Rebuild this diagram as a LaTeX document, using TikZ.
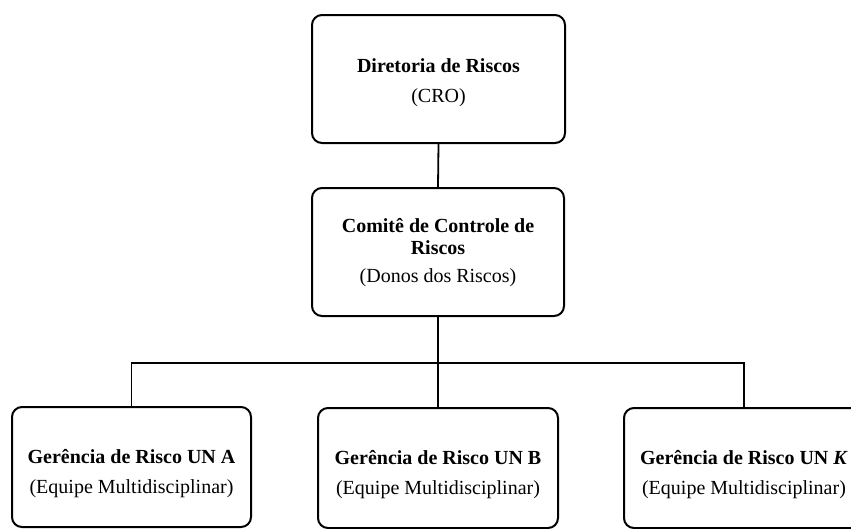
\documentclass[tikz,border=0pt]{standalone}
\usepackage{fontspec}
\setmainfont{Liberation Serif}
\begin{document}
\begin{tikzpicture}[x=1pt,y=-1pt,
  frame/.style={draw=black, line width=2pt, rounded corners=10pt,
    fill=white, inner sep=0pt},
  topbox/.style={frame, minimum width=253pt, minimum height=128pt},
  leafbox/.style={frame, minimum width=240pt, minimum height=120pt},
  caption/.style={align=center, inner sep=0pt,
    font=\fontsize{20}{30}\selectfont},
  trunk/.style={line width=1.8pt},
  branch/.style={line width=1.2pt}]
\useasboundingbox (0,0) rectangle (851,528);
\clip (0,0) rectangle (851,528);

% hierarchy boxes
\node[topbox] (cro) at (438.5,79) {};
\node[topbox, minimum width=252pt] (ccr) at (438,252) {};
\node[leafbox, minimum width=239pt] (una) at (131.5,467) {};
\node[leafbox] (unb) at (438,468) {};
\node[leafbox] (unk) at (744,468) {};

% box captions
\node[caption] (crotext) at ([yshift=-3.5pt]cro.center)
  {\textbf{Diretoria de Riscos}\\(CRO)};
\node[caption, font=\fontsize{20}{22}\selectfont] (ccrtext) at ([yshift=-1pt]ccr.center)
  {\textbf{Comitê de Controle de}\\\textbf{Riscos}\\[6pt](Donos dos Riscos)};
\node[caption] (unatext) at ([yshift=-6.5pt]una.center)
  {\textbf{Gerência de Risco UN A}\\(Equipe Multidisciplinar)};
\node[caption] (unbtext) at ([yshift=-6.5pt]unb.center)
  {\textbf{Gerência de Risco UN B}\\(Equipe Multidisciplinar)};
\node[caption] (unktext) at ([yshift=-6.5pt]unk.center)
  {\textbf{Gerência de Risco UN \textit{K}}\\(Equipe Multidisciplinar)};

% connectors
\coordinate (bus) at (438,363);
\draw[trunk] (cro.south) -- (ccr.north);
\draw[trunk] (ccr.south) -- (unb.north);
\draw[branch] (una.north) |- (bus) -| (unk.north);
\end{tikzpicture}
\end{document}
